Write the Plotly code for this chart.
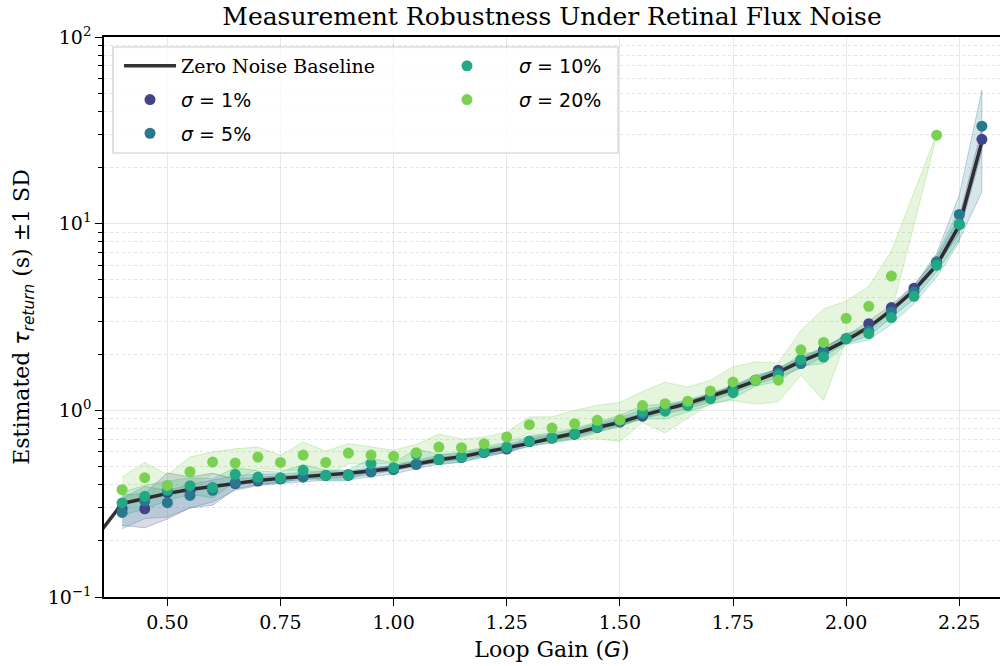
import plotly.graph_objects as go

# ---------------- data ----------------
G = [0.40, 0.45, 0.50, 0.55, 0.60, 0.65, 0.70, 0.75, 0.80, 0.85,
     0.90, 0.95, 1.00, 1.05, 1.10, 1.15, 1.20, 1.25, 1.30, 1.35,
     1.40, 1.45, 1.50, 1.55, 1.60, 1.65, 1.70, 1.75, 1.80, 1.85,
     1.90, 1.95, 2.00, 2.05, 2.10, 2.15, 2.20, 2.25, 2.30]

BASE_G = [0.35] + G
BASE_TAU = [0.220, 0.317, 0.337, 0.359, 0.377, 0.391, 0.406, 0.421, 0.432, 0.440,
            0.450, 0.460, 0.473, 0.489, 0.515, 0.544, 0.565, 0.596, 0.625, 0.665,
            0.708, 0.753, 0.810, 0.862, 0.940, 1.010, 1.090, 1.190, 1.300, 1.440,
            1.600, 1.830, 2.050, 2.370, 2.790, 3.440, 4.400, 5.990, 9.800, 27.50]

S1 = [0.297, 0.297, 0.362, 0.370, 0.385, 0.405, 0.418, 0.430, 0.440, 0.448,
      0.452, 0.470, 0.490, 0.515, 0.545, 0.560, 0.595, 0.620, 0.680, 0.710,
      0.745, 0.810, 0.866, 0.930, 1.030, 1.080, 1.180, 1.310, 1.450, 1.640,
      1.850, 2.110, 2.420, 2.910, 3.550, 4.510, 6.230, 9.900, 28.30]
S5 = [0.284, 0.327, 0.320, 0.350, 0.373, 0.410, 0.425, 0.430, 0.440, 0.448,
      0.448, 0.467, 0.481, 0.512, 0.545, 0.560, 0.595, 0.625, 0.680, 0.710,
      0.748, 0.812, 0.870, 0.955, 1.010, 1.075, 1.170, 1.300, 1.450, 1.580,
      1.780, 2.050, 2.420, 2.660, 3.360, 4.300, 6.230, 11.20, 33.30]
S10 = [0.319, 0.346, 0.373, 0.395, 0.385, 0.454, 0.439, 0.436, 0.477, 0.448,
       0.450, 0.518, 0.493, 0.581, 0.546, 0.562, 0.598, 0.636, 0.685, 0.714,
       0.750, 0.814, 0.880, 0.980, 0.990, 1.060, 1.155, 1.245, 1.450, 1.540,
       1.870, 1.930, 2.420, 2.580, 3.140, 4.080, 5.980, 9.930, None]
S20 = [0.376, 0.436, 0.396, 0.469, 0.528, 0.522, 0.562, 0.526, 0.576, 0.526,
       0.590, 0.576, 0.567, 0.593, 0.636, 0.631, 0.663, 0.719, 0.838, 0.804,
       0.848, 0.884, 0.891, 1.060, 1.086, 1.120, 1.270, 1.420, 1.450, 1.450,
       2.110, 2.310, 3.110, 3.610, 5.240, None, 29.80, None, None]

SD1 = [0.055, 0.062, 0.100, 0.070, 0.075, 0.025, 0.020, 0.015, 0.015, 0.015,
       0.015, 0.015, 0.015, 0.015, 0.015, 0.015, 0.020, 0.020, 0.020, 0.020,
       0.020, 0.025, 0.025, 0.030, 0.030, 0.030, 0.035, 0.040, 0.040, 0.050,
       0.060, 0.070, 0.080, 0.100, 0.130, 0.200, 0.350, 1.000, 4.000]
SD5 = [0.052, 0.064, 0.052, 0.050, 0.050, 0.037, 0.030, 0.025, 0.025, 0.025,
       0.025, 0.025, 0.025, 0.025, 0.030, 0.030, 0.030, 0.030, 0.035, 0.035,
       0.040, 0.040, 0.045, 0.050, 0.050, 0.055, 0.060, 0.065, 0.070, 0.080,
       0.100, 0.110, 0.130, 0.160, 0.220, 0.350, 0.700, 3.000, 18.50]
SD10 = [0.045, 0.050, 0.045, 0.040, 0.045, 0.040, 0.035, 0.030, 0.035, 0.030,
        0.030, 0.035, 0.030, 0.040, 0.035, 0.035, 0.040, 0.040, 0.045, 0.045,
        0.050, 0.055, 0.060, 0.080, 0.090, 0.080, 0.080, 0.090, 0.100, 0.110,
        0.140, 0.150, 0.170, 0.200, 0.250, 0.350, 0.800, 2.000, None]
SD20 = [0.063, 0.090, 0.056, 0.093, 0.070, 0.100, 0.074, 0.048, 0.100, 0.079,
        0.073, 0.060, 0.045, 0.064, 0.110, 0.070, 0.056, 0.046, 0.083, 0.120,
        0.150, 0.180, 0.210, 0.200, 0.330, 0.210, 0.180, 0.290, 0.370, 0.340,
        0.570, 1.180, 0.740, 1.000, 1.900, None, 0.500, None, None]

X_TICKS = [0.50, 0.75, 1.00, 1.25, 1.50, 1.75, 2.00, 2.25]
X_TICK_TEXT = ["0.50", "0.75", "1.00", "1.25", "1.50", "1.75", "2.00", "2.25"]
Y_TICKS = [0.1, 1, 10, 100]
Y_TICK_TEXT = ["10<sup>\u22121</sup>", "10<sup>0</sup>", "10<sup>1</sup>", "10<sup>2</sup>"]
Y_MINOR = [m * d for d in (0.1, 1, 10) for m in range(2, 10)]

# (label, values, sd, colour, legend to use)
SERIES = [
    ("1%", S1, SD1, (65, 68, 135), "legend"),
    ("5%", S5, SD5, (42, 120, 142), "legend"),
    ("10%", S10, SD10, (34, 168, 132), "legend2"),
    ("20%", S20, SD20, (122, 209, 81), "legend2"),
]

SERIF = "DejaVu Serif"
SANS = "DejaVu Sans"

# plot area in pixels (figure 1000x666)
PL, PR, PT, PB = 104, 1000, 37, 597
PW, PH = PR - PL, PB - PT


def px_x(p):
    return (p - PL) / PW


def px_y(p):
    return 1 - (p - PT) / PH


def rgba(c, a):
    return "rgba(%d,%d,%d,%.3f)" % (c[0], c[1], c[2], a)


fig = go.Figure()

# bands (mean +/- 1 SD)
for label, vals, sds, col, leg in SERIES:
    xs = [g for g, v in zip(G, vals) if v is not None]
    up = [v + s for v, s in zip(vals, sds) if v is not None]
    lo = [v - s for v, s in zip(vals, sds) if v is not None]
    fig.add_trace(go.Scatter(
        x=xs + xs[::-1], y=up + lo[::-1], mode="lines", fill="toself",
        fillcolor=rgba(col, 0.19), line=dict(color=rgba(col, 0.30), width=1),
        showlegend=False, hoverinfo="skip"))

# zero-noise baseline
fig.add_trace(go.Scatter(
    x=BASE_G, y=BASE_TAU, mode="lines",
    line=dict(color="rgba(34,34,34,0.92)", width=3.5),
    name="Zero Noise Baseline", legend="legend", legendgroup="base"))

for label, vals, sds, col, leg in SERIES:
    xs = [g for g, v in zip(G, vals) if v is not None]
    ys = [v for v in vals if v is not None]
    fig.add_trace(go.Scatter(
        x=xs, y=ys, mode="markers",
        marker=dict(color=rgba(col, 1.0), size=11, line=dict(width=0)),
        name='<span style="font-family:DejaVu Sans"><i>\u03c3</i> = ' + label + '</span>',
        legend=leg, legendgroup=label))

legend_common = dict(
    orientation="v", xanchor="left", yanchor="top",
    bgcolor="rgba(0,0,0,0)", borderwidth=0, tracegroupgap=6,
    font=dict(family=SERIF, size=19, color="black"), traceorder="grouped")

fig.update_layout(
    width=1000, height=666,
    margin=dict(l=PL, r=1000 - PR, t=PT, b=666 - PB),
    paper_bgcolor="white", plot_bgcolor="white",
    font=dict(family=SERIF, color="black", size=19),
    title=dict(text="Measurement Robustness Under Retinal Flux Noise",
               font=dict(family=SERIF, size=25, color="black"),
               x=0.5, xanchor="center", xref="paper",
               y=0.976, yanchor="middle", yref="container"),
    legend=dict(x=px_x(119), y=px_y(47), itemwidth=52, **legend_common),
    legend2=dict(x=px_x(415), y=px_y(47), itemwidth=94, **legend_common),
    shapes=[dict(type="rect", xref="paper", yref="paper",
                 x0=px_x(113), x1=px_x(618), y0=px_y(153), y1=px_y(47),
                 line=dict(color="#cccccc", width=1.2),
                 fillcolor="rgba(255,255,255,0.82)", layer="above")],
    xaxis=dict(range=[0.36, 2.34], tickmode="array", tickvals=X_TICKS, ticktext=X_TICK_TEXT,
               ticks="outside", ticklen=7, tickwidth=1.2, tickcolor="black",
               showline=True, linecolor="black", linewidth=1.5, mirror=True,
               showgrid=True, gridcolor="rgba(0,0,0,0.09)", gridwidth=1,
               tickfont=dict(family=SERIF, size=19, color="black"),
               title=dict(text='Loop Gain (<span style="font-family:DejaVu Sans"><i>G</i></span>)',
                          font=dict(family=SERIF, size=22, color="black"), standoff=10),
               zeroline=False),
    yaxis=dict(type="log", range=[-1, 2], tickmode="array", tickvals=Y_TICKS, ticktext=Y_TICK_TEXT,
               ticks="outside", ticklen=7, tickwidth=1.2, tickcolor="black",
               showline=True, linecolor="black", linewidth=1.5, mirror=False,
               showgrid=True, gridcolor="rgba(0,0,0,0.09)", gridwidth=1,
               tickfont=dict(family=SERIF, size=19, color="black"),
               minor=dict(tickmode="array", tickvals=Y_MINOR, ticks="outside", ticklen=4,
                          tickwidth=1, tickcolor="black", showgrid=True,
                          gridcolor="rgba(0,0,0,0.11)", griddash="dot", gridwidth=1),
               title=dict(text='Estimated <span style="font-family:DejaVu Sans"><i>\u03c4</i><sub><i>return</i></sub></span> (s) \u00b11 SD',
                          font=dict(family=SERIF, size=22, color="black"), standoff=12),
               zeroline=False),
)

fig.write_html("out.html", config={"displayModeBar": False},
               post_script="document.body.style.margin='0px';")
